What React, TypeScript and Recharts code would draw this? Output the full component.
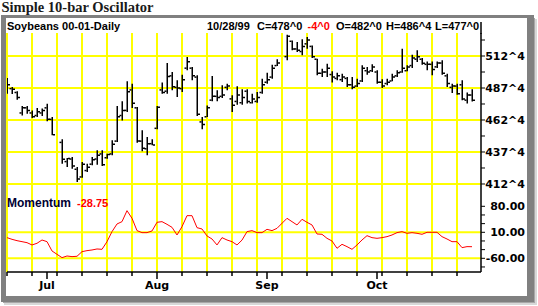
import React from "react";
import { ComposedChart, Bar, Line, XAxis, YAxis, CartesianGrid } from "recharts";

// Trading-day slots (weekdays), holidays carry null values
const days = [
  "6/21","6/22","6/23","6/24","6/25",
  "6/28","6/29","6/30","7/1","7/2",
  "7/5","7/6","7/7","7/8","7/9",
  "7/12","7/13","7/14","7/15","7/16",
  "7/19","7/20","7/21","7/22","7/23",
  "7/26","7/27","7/28","7/29","7/30",
  "8/2","8/3","8/4","8/5","8/6",
  "8/9","8/10","8/11","8/12","8/13",
  "8/16","8/17","8/18","8/19","8/20",
  "8/23","8/24","8/25","8/26","8/27",
  "8/30","8/31","9/1","9/2","9/3",
  "9/6","9/7","9/8","9/9","9/10",
  "9/13","9/14","9/15","9/16","9/17",
  "9/20","9/21","9/22","9/23","9/24",
  "9/27","9/28","9/29","9/30","10/1",
  "10/4","10/5","10/6","10/7","10/8",
  "10/11","10/12","10/13","10/14","10/15",
  "10/18","10/19","10/20","10/21","10/22",
  "10/25","10/26","10/27","10/28",
];

const highs = [
  495.3, 488.3, 484.9, 473.4, 473.4, 470.0, 471.9, 471.4, 475.2, 464.8,
  null, 447.4, 432.8, 433.6, 425.8, 429.7, 428.4, 433.6, 438.8, 438.8,
  436.2, 446.6, 473.4, 477.1, 492.7, 490.9, 472.6, 454.4, 449.2, 447.4,
  473.4, 491.7, 507.0, 500.0, 493.5, 497.9, 511.7, 503.9, 497.4, 464.8,
  473.9, 496.9, 485.7, 489.6, 490.9, 481.8, 488.8, 486.5, 486.5, 483.1,
  484.4, 494.8, 499.5, 505.7, 509.9, null, 529.2, 524.7, 523.4, 525.5,
  527.3, 520.8, 510.4, 502.6, 506.5, 500.5, 499.5, 498.7, 496.1, 496.1,
  494.8, 505.2, 503.9, 506.0, 501.3, 494.3, 494.8, 498.7, 501.3, 518.2,
  505.2, 513.5, 516.9, 510.9, 508.3, 508.3, 508.3, 509.1, 498.7, 490.9,
  490.9, 493.5, 483.9, 486.5,
];

const lows = [
  483.1, 482.8, 478.4, 466.1, 467.4, 464.0, 464.8, 465.6, 461.5, 450.5,
  null, 428.4, 425.8, 424.5, 414.1, 417.4, 421.9, 427.1, 427.6, 426.6,
  432.3, 434.9, 445.3, 462.2, 468.7, 471.9, 444.8, 438.0, 434.9, 442.7,
  455.2, 483.1, 483.1, 485.7, 480.5, 484.4, 501.3, 493.5, 465.6, 455.2,
  464.8, 477.1, 477.1, 479.7, 485.7, 468.7, 474.5, 474.5, 475.3, 475.3,
  476.0, 483.1, 490.9, 494.8, 504.7, null, 509.1, 516.9, 515.6, 513.0,
  518.2, 510.9, 497.4, 496.1, 496.1, 491.7, 493.5, 492.2, 488.3, 486.5,
  488.3, 492.2, 497.9, 500.0, 490.9, 487.5, 489.6, 492.7, 496.1, 499.5,
  500.5, 503.1, 507.8, 505.7, 501.3, 497.4, 503.1, 497.9, 488.3, 483.6,
  482.3, 477.9, 475.3, 477.0,
];

const opens = [
  493, 487, 484, 468, 472, 468, 466, 468, 472, 463,
  null, 445, 430, 432, 424, 418, 423, 428, 432, 436,
  433, 436, 446, 466, 470, 486, 472, 446, 440, 444,
  456, 486, 485, 497, 488, 487, 503, 503, 496, 461,
  465, 478, 481, 481, 488, 479, 477, 476, 485, 476,
  477, 484, 492, 496, 505, null, 512, 524, 518, 516,
  522, 520, 510, 499, 500, 498, 495, 494, 495, 490,
  489, 493, 501, 501, 500, 492, 491, 493, 497, 500,
  501, 505, 510, 510, 506, 506, 504, 507, 497, 488,
  489, 490, 478, 482,
];

const closes = [
  490, 486.5, 480, 472, 470, 465, 469, 470, 463, 451,
  null, 431.8, 432.5, 426.5, 416.5, 428, 425.5, 431.5, 435, 427.5,
  435.5, 443.5, 465, 470, 484.5, 475.5, 446, 440.5, 444, 443,
  472.5, 484, 496.5, 488.5, 487.5, 494, 508, 497, 467, 459,
  472, 481, 480, 482, 489, 474, 482, 480, 477, 479,
  480, 490, 494, 503, 507, null, 528, 518, 517, 520,
  525, 512, 499, 500, 503, 496, 497, 496, 490, 488,
  491, 503, 500, 504, 492, 489, 492, 496, 499.5, 503,
  504, 511, 512, 506.75, 506, 502, 507, 499, 491, 489,
  483, 479, 482, 478,
];

const momentum = [
  -4.4, -8.9, -12.5, -15.2, -17.9, -24.1, -19.6, -10.7, -15.2, -40.3,
  null, -58.2, -53.8, -55.5, -54.6, -42.1, -39.4, -37.6, -34.9, -35.8,
  -15.2, 11.8, 32.4, 38.7, 68.3, 47.7, 14.5, 9.1, 9.1, 13.6,
  36.9, 38.7, 31.5, 23.4, 2.8, 25.2, 54.8, 54.8, 22.5, 18.9,
  0.1, -8.0, -24.1, -4.4, -10.7, -15.2, -24.1, -11.0, 11.8, 14.5,
  9.1, 9.1, 18.0, 14.5, 20.7, null, 47.7, 38.7, 29.7, 45.0,
  36.9, 29.7, 5.5, 4.6, -6.2, -13.4, -33.1, -22.3, -28.6, -35.8,
  -24.1, -10.7, 1.0, -4.4, -6.2, -4.4, -1.7, 2.8, 9.1, 11.8,
  7.3, 9.1, 7.3, 4.6, 10.0, 10.0, 10.0, -1.7, -8.0, -15.2,
  -15.2, -31.3, -28.6, -28.75,
];

const gridMondays = ["6/21","6/28","7/5","7/12","7/19","7/26","8/2","8/9","8/16","8/23","8/30","9/6","9/13","9/20","9/27","10/4","10/11","10/18","10/25"];
const monthStarts = ["7/1","8/2","9/1","10/1"];
const monthLabels = ["Jul","Aug","Sep","Oct"];

const priceGridValues = [512.5, 487.5, 462.5, 437.5, 412.5];
const priceTicks = [525, 512.5, 500, 487.5, 475, 462.5, 450, 437.5, 425, 412.5];
const momGridValues = [10, -60];
const momTicks = [80, 56.67, 33.33, 10, -13.33, -36.67, -60, -83.33];
const momLabelValues = [80, 10, -60];

const data = days.map((d, k) => ({
  x: k + 1,
  day: d,
  h: highs[k],
  l: lows[k],
  o: opens[k],
  c: closes[k],
  m: momentum[k],
}));

const xOf = (d: string) => days.indexOf(d) + 1;
const mondayX = gridMondays.map(xOf);
const monthX = monthStarts.map(xOf);
const axisTicks = Array.from(new Set([...mondayX, ...monthX])).sort((a, b) => a - b);

const X_DOMAIN: [number, number] = [1, 95.8];
const PRICE_DOMAIN: [number, number] = [401.56, 530.47];
const MOM_DOMAIN: [number, number] = [-96.88, 102.35];

const SANS = "'Liberation Sans', Arial, sans-serif";
const VERD = "'DejaVu Sans', Verdana, sans-serif";
const YELLOW = "#ffff00";

const fmtPrice = (v: number) => {
  const w = Math.floor(v);
  return `${w}^${Math.round((v - w) * 8)}`;
};

const OHLCShape = (props: any) => {
  const { x, y, width, height, payload } = props;
  if (payload == null || payload.h == null || x == null) return null;
  const cx = Math.round(x + width / 2) + 0.25;
  const top = Math.min(y, y + height);
  const bot = Math.max(y, y + height);
  const span = payload.h - payload.l || 1;
  const yOf = (v: number) => top + ((payload.h - v) / span) * (bot - top);
  const yo = yOf(payload.o);
  const yc = yOf(payload.c);
  return (
    <g>
      <line x1={cx} x2={cx} y1={top} y2={bot} stroke="#000" strokeWidth={1.5} />
      <line x1={cx - 2.75} x2={cx - 0.75} y1={yo} y2={yo} stroke="#000" strokeWidth={1.5} />
      <line x1={cx + 0.75} x2={cx + 2.75} y1={yc} y2={yc} stroke="#000" strokeWidth={1.5} />
    </g>
  );
};

const PriceTick = (props: any) => {
  const { x, y, payload } = props;
  const v = payload.value;
  const major = priceGridValues.includes(v);
  return (
    <g>
      <line x1={x} x2={x + 4} y1={y} y2={y} stroke="#000" strokeWidth={1} />
      {major && (
        <text x={x + 44} y={y + 4} textAnchor="end" fontFamily={VERD} fontWeight="bold" fontSize={11} fill="#000">
          {fmtPrice(v)}
        </text>
      )}
    </g>
  );
};

const MomTick = (props: any) => {
  const { x, y, payload } = props;
  const v = payload.value;
  const major = momLabelValues.includes(v);
  return (
    <g>
      <line x1={x} x2={x + 4} y1={y} y2={y} stroke="#000" strokeWidth={1} />
      {major && (
        <text x={x + 44} y={y + 4} textAnchor="end" fontFamily={VERD} fontWeight="bold" fontSize={11} fill="#000">
          {v.toFixed(2)}
        </text>
      )}
    </g>
  );
};

const DateTick = (props: any) => {
  const { x, y, payload } = props;
  const k = monthX.indexOf(payload.value);
  const isMonth = k >= 0;
  return (
    <g>
      <line x1={x} x2={x} y1={y} y2={y + (isMonth ? 7 : 4)} stroke="#000" strokeWidth={1.5} />
      {isMonth && (
        <text x={x} y={y + 17} textAnchor="middle" fontFamily={VERD} fontWeight="bold" fontSize={11} fill="#000">
          {monthLabels[k]}
        </text>
      )}
    </g>
  );
};

export default function App() {
  return (
    <div style={{ position: "absolute", left: 0, top: 0, width: 538, height: 306, background: "#fff", overflow: "hidden" }}>
      {/* frame */}
      <svg width={538} height={306} style={{ position: "absolute", left: 0, top: 0 }}>
        <rect x={4} y={19} width={533} height={286} fill="#d8d8d8" />
        <rect x={3} y={18} width={532} height={285} fill="#a8a8a8" />
        <rect x={1} y={15} width={533} height={287} fill="#808080" />
        <rect x={6} y={18} width={521} height={278} fill="#fff" />
      </svg>

      <div style={{ position: "absolute", left: 0, top: 0 }}>
        <ComposedChart width={538} height={198} data={data} margin={{ top: 33, right: 0, bottom: 0, left: 7 }}>
          <CartesianGrid stroke={YELLOW} strokeWidth={2} verticalValues={mondayX} horizontalValues={priceGridValues} fill="none" />
          <XAxis type="number" dataKey="x" domain={X_DOMAIN} allowDataOverflow hide />
          <YAxis
            orientation="right"
            type="number"
            domain={PRICE_DOMAIN}
            allowDataOverflow
            ticks={priceTicks}
            interval={0}
            width={57}
            tickSize={0}
            tickMargin={0}
            tickLine={false}
            axisLine={{ stroke: "#000", strokeWidth: 1.5 }}
            tick={<PriceTick />}
          />
          <Bar
            dataKey={(d: any) => (d.h == null ? null : [d.l, d.h])}
            barSize={4}
            shape={<OHLCShape />}
            isAnimationActive={false}
          />
        </ComposedChart>
      </div>

      <div style={{ position: "absolute", left: 0, top: 198 }}>
        <ComposedChart width={538} height={100} data={data} margin={{ top: 0, right: 0, bottom: 0, left: 7 }}>
          <CartesianGrid stroke={YELLOW} strokeWidth={2} verticalValues={mondayX} horizontalValues={momGridValues} fill="none" />
          <XAxis
            type="number"
            dataKey="x"
            domain={X_DOMAIN}
            allowDataOverflow
            ticks={axisTicks}
            interval={0}
            height={26}
            tickSize={0}
            tickMargin={0}
            tickLine={false}
            axisLine={{ stroke: "#000", strokeWidth: 1.5 }}
            tick={<DateTick />}
          />
          <YAxis
            orientation="right"
            type="number"
            domain={MOM_DOMAIN}
            allowDataOverflow
            ticks={momTicks}
            interval={0}
            width={57}
            tickSize={0}
            tickMargin={0}
            tickLine={false}
            axisLine={{ stroke: "#000", strokeWidth: 1.5 }}
            tick={<MomTick />}
          />
          <Line
            type="linear"
            dataKey="m"
            stroke="#ff0000"
            strokeWidth={1}
            dot={false}
            connectNulls
            isAnimationActive={false}
          />
        </ComposedChart>
      </div>

      {/* texts */}
      <svg width={538} height={306} style={{ position: "absolute", left: 0, top: 0, pointerEvents: "none" }}>
        <text x={1.5} y={12} fontFamily="'Liberation Serif', 'Times New Roman', serif" fontWeight="bold" fontSize={14.5} fill="#1a1a1a">
          Simple 10-bar Oscillator
        </text>
        <line x1={481} x2={481} y1={22} y2={34} stroke="#000" strokeWidth={1.5} />
        <g fontFamily={SANS} fontWeight="bold" fontSize={11} fill="#000">
          <text x={7} y={29.5}>Soybeans 00-01-Daily</text>
          <text x={207} y={29.5}>10/28/99</text>
          <text x={257} y={29.5}>C=478^0</text>
          <text x={307.5} y={29.5} fill="#ff0000">-4^0</text>
          <text x={336} y={29.5}>O=482^0</text>
          <text x={386} y={29.5}>H=486^4</text>
          <text x={435} y={29.5}>L=477^0</text>
          <text x={7} y={207} fontSize={12} fill="#000033">Momentum</text>
          <text x={77} y={207} fill="#ff0000">-28.75</text>
        </g>
      </svg>
    </div>
  );
}
